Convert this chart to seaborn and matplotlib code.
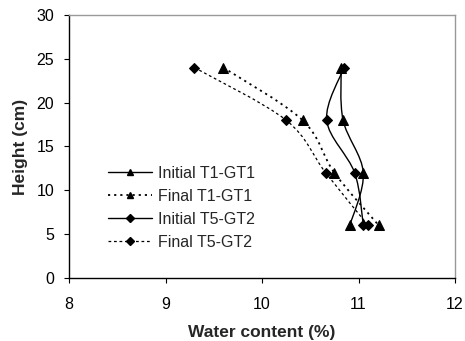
import matplotlib
matplotlib.use("Agg")
import matplotlib.pyplot as plt
import seaborn as sns
import pandas as pd
import numpy as np
from matplotlib.path import Path
from matplotlib.patches import PathPatch
from matplotlib.lines import Line2D

# ---- data ----
heights = [24, 18, 12, 6]
initial_t1 = [10.82, 10.84, 11.05, 10.91]
final_t1 = [9.60, 10.42, 10.75, 11.21]
initial_t5 = [10.85, 10.67, 10.96, 11.05]
final_t5 = [9.30, 10.25, 10.66, 11.10]
series_names = ["Initial T1-GT1", "Final T1-GT1", "Initial T5-GT2", "Final T5-GT2"]
x_ticks = [8, 9, 10, 11, 12]
y_ticks = [0, 5, 10, 15, 20, 25, 30]

sns.set_theme(style="white")
plt.rcParams["font.family"] = ["Liberation Sans", "DejaVu Sans"]

fig = plt.figure(figsize=(4.65, 3.41), dpi=100)
ax = fig.add_axes([0.1484, 0.1848, 0.8301, 0.7712])

styles = [
    dict(marker="^", ls="-", lw=1.0),
    dict(marker="^", ls=(0, (1.2, 2.2)), lw=1.3),
    dict(marker="D", ls="-", lw=1.0),
    dict(marker="D", ls=(0, (2.2, 2.2)), lw=0.9),
]
all_x = [initial_t1, final_t1, initial_t5, final_t5]


def smooth_path(xs, ys):
    pts = np.column_stack([xs, ys]).astype(float)
    n = len(pts)
    verts = [tuple(pts[0])]
    codes = [Path.MOVETO]
    for i in range(n - 1):
        p0 = pts[i - 1] if i > 0 else pts[i]
        p1 = pts[i]
        p2 = pts[i + 1]
        p3 = pts[i + 2] if i + 2 < n else pts[i + 1]
        c1 = p1 + (p2 - p0) / 6.0
        c2 = p2 - (p3 - p1) / 6.0
        verts += [tuple(c1), tuple(c2), tuple(p2)]
        codes += [Path.CURVE4] * 3
    return Path(verts, codes)


handles = []
for name, xs, st in zip(series_names, all_x, styles):
    df = pd.DataFrame({"x": xs, "y": heights})
    ms = 6.5 if st["marker"] == "^" else 5
    sns.lineplot(data=df, x="x", y="y", sort=False, marker=st["marker"],
                 linestyle="none", color="black", markersize=ms,
                 markeredgecolor="black", ax=ax, legend=False)
    patch = PathPatch(smooth_path(xs, heights), facecolor="none",
                      edgecolor="black", lw=st["lw"], linestyle=st["ls"])
    ax.add_patch(patch)
    handles.append(Line2D([], [], color="black", lw=st["lw"], linestyle=st["ls"],
                          marker=st["marker"], markersize=4.5 if st["marker"] == "^" else 3.8))

ax.set_xlim(8, 12)
ax.set_ylim(0, 30)
ax.set_xticks(x_ticks)
ax.set_yticks(y_ticks)
ax.set_xticklabels([str(v) for v in x_ticks])
ax.set_yticklabels([str(v) for v in y_ticks])
ax.tick_params(axis="both", direction="out", length=3.8, width=0.8, colors="black",
               labelsize=11.5)
ax.tick_params(axis="x", pad=10, bottom=True)
ax.tick_params(axis="y", pad=7, left=True)

for side in ["left", "bottom"]:
    ax.spines[side].set_color("black")
    ax.spines[side].set_linewidth(1.0)
for side in ["top", "right"]:
    ax.spines[side].set_color("#999999")
    ax.spines[side].set_linewidth(1.0)

ax.set_xlabel("Water content (%)", fontsize=12.5, fontweight="bold", labelpad=9)
ax.set_ylabel("Height (cm)", fontsize=12.5, fontweight="bold", labelpad=6)

leg = ax.legend(handles, series_names, loc="upper left",
                bbox_to_anchor=(108 / 465, 1 - 166 / 341), bbox_transform=fig.transFigure,
                frameon=False, fontsize=11.5, handlelength=2.75, handletextpad=0.4,
                labelspacing=0.5, borderaxespad=0, borderpad=0)

fig.savefig("out.png", dpi=100)
